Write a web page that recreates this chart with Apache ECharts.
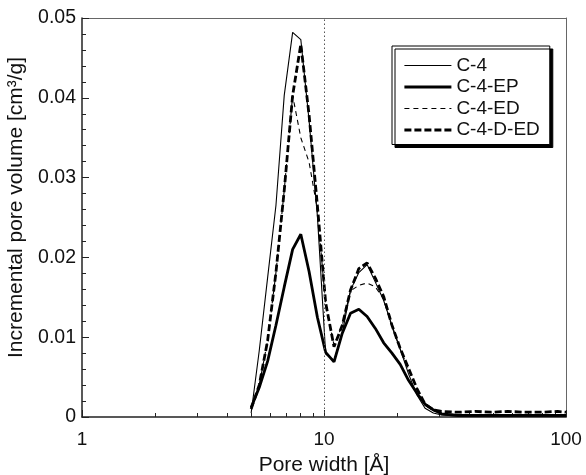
<!DOCTYPE html>
<html>
<head>
<meta charset="utf-8">
<script src="https://cdn.jsdelivr.net/npm/echarts@6/dist/echarts.min.js"></script>
<style>
  html, body { margin: 0; padding: 0; background: #fff; }
  #chart { width: 586px; height: 475px; }
</style>
</head>
<body>
<div id="chart"></div>
<script>
// Pore widths (Å) of the DFT pore size distribution
const poreWidths = [5.0, 5.4, 5.85, 6.33, 6.85, 7.42, 8.02, 8.68, 9.39, 10.16, 11.0, 11.9,
  12.87, 13.93, 15.07, 16.3, 17.64, 19.09, 20.65, 22.35, 24.18, 26.16, 28.3, 30.6,
  35.8, 42, 49.1, 57.5, 67.3, 78.8, 92.3, 100];

// Incremental pore volume (cm³/g) per sample
const c4 = [0.0005, 0.0083, 0.0175, 0.0265, 0.0403, 0.0482, 0.0473, 0.0371, 0.0252, 0.0079,
  0.0071, 0.0105, 0.0159, 0.0181, 0.0191, 0.0169, 0.0146, 0.0115, 0.0085, 0.0054, 0.0028,
  0.0011, 0.0005, 0.00025, 0.0001, 0.0001, 0.0001, 0.0001, 0.0001, 0.0001, 0.0001, 0.0001];
const c4EP = [0.0012, 0.0037, 0.0070, 0.0115, 0.0163, 0.0210, 0.0229, 0.0182, 0.0125, 0.0081,
  0.0069, 0.0105, 0.0130, 0.0135, 0.0126, 0.0111, 0.0093, 0.0080, 0.0066, 0.0046, 0.0030,
  0.0016, 0.0009, 0.0004, 0.0002, 0.0002, 0.0002, 0.0002, 0.0002, 0.0002, 0.0002, 0.0002];
const c4ED = [0.0010, 0.0040, 0.0096, 0.0181, 0.0284, 0.0403, 0.0350, 0.0319, 0.0260, 0.0140,
  0.0090, 0.0115, 0.0158, 0.0165, 0.0168, 0.0163, 0.0148, 0.0113, 0.0085, 0.0060, 0.0035,
  0.0015, 0.0008, 0.0004, 0.0003, 0.0003, 0.0003, 0.0003, 0.0003, 0.0003, 0.0003, 0.0003];
const c4DED = [0.0010, 0.0040, 0.0096, 0.0181, 0.0284, 0.0403, 0.0467, 0.0378, 0.0265, 0.0143,
  0.0088, 0.0115, 0.0159, 0.0186, 0.0193, 0.0174, 0.0151, 0.0115, 0.0086, 0.0061, 0.0036,
  0.0016, 0.0009, 0.0007, 0.0006, 0.0007, 0.0006, 0.0007, 0.0006, 0.0006, 0.0007, 0.0006];

const seriesNames = ['C-4', 'C-4-EP', 'C-4-ED', 'C-4-D-ED'];
const lineWidths = [1.1, 2.8, 1.1, 2.8];
const lineTypes = ['solid', 'solid', [5, 4], [7, 3]];
const xTickLabels = ['1', '10', '100'];
const xMinorTicks = [2, 3, 4, 5, 6, 7, 8, 9, 20, 30, 40, 50, 60, 70, 80, 90];
const yTickLabels = ['0', '0.01', '0.02', '0.03', '0.04', '0.05'];
const markerWidth = 10; // dotted reference line at 10 Å

const FONT = 'Liberation Sans, Arial, sans-serif';
const INK = '#111';
const AXIS = '#222';

// plot box in pixels
const GRID = { left: 82, right: 20, top: 18, bottom: 58 };
const PLOT_W = 586 - GRID.left - GRID.right;
const PLOT_H = 475 - GRID.top - GRID.bottom;

function pairs(values) {
  return poreWidths.map((w, i) => [w, values[i]]);
}

function lineSeries(idx, values) {
  return {
    name: seriesNames[idx],
    type: 'line',
    xAxisIndex: 0,
    yAxisIndex: 0,
    data: pairs(values),
    symbol: 'none',
    smooth: false,
    lineStyle: { color: '#000', width: lineWidths[idx], type: lineTypes[idx] },
    itemStyle: { color: '#000' },
    emphasis: { disabled: true }
  };
}

// axis that only draws its line (plot frame)
function frameAxis(base, position) {
  return Object.assign({}, base, {
    position: position,
    axisLine: { show: true, onZero: false, lineStyle: { color: '#666', width: 1 } },
    axisTick: { show: false },
    axisLabel: { show: false },
    splitLine: { show: false }
  });
}

// axis placed on the opposite edge so that its ticks point into the plot
function tickAxis(base, position, offset, tick, minor) {
  return Object.assign({}, base, {
    position: position,
    offset: offset,
    axisLine: { show: false, onZero: false },
    axisLabel: { show: false },
    splitLine: { show: false },
    axisTick: Object.assign({ show: true, inside: false, lineStyle: { color: AXIS, width: 1 } }, tick),
    minorTick: minor || { show: false }
  });
}

const chart = echarts.init(document.getElementById('chart'), null, { renderer: 'canvas' });

const first = lineSeries(0, c4);
first.markLine = {
  silent: true,
  symbol: ['none', 'none'],
  label: { show: false },
  lineStyle: { color: '#555', width: 1, type: [1.5, 2.5] },
  data: [{ xAxis: markerWidth }]
};

const xBase = { type: 'log', logBase: 10, min: 1, max: 100 };
const xLogUnits = { type: 'value', min: 0, max: 2 };
const yBase = { type: 'value', min: 0, max: 0.05, interval: 0.01 };

chart.setOption({
  animation: false,
  textStyle: { fontFamily: FONT },
  grid: Object.assign({ show: false, containLabel: false, outerBoundsMode: 'none' }, GRID),
  legend: {
    data: seriesNames.map((n, i) => ({
      name: n,
      itemStyle: { opacity: 0 },
      lineStyle: { width: lineWidths[i], type: lineTypes[i], color: '#000' }
    })),
    orient: 'vertical',
    left: 392, top: 46,
    itemWidth: 47, itemHeight: 14, itemGap: 2.5,
    padding: [10, 10, 5, 11],
    backgroundColor: '#fff',
    borderColor: '#000', borderWidth: 1,
    shadowColor: '#000', shadowBlur: 0, shadowOffsetX: 3, shadowOffsetY: 3,
    textStyle: { fontFamily: FONT, fontSize: 19, color: INK },
    selectedMode: false
  },
  xAxis: [
    Object.assign({}, xBase, {
      position: 'bottom',
      name: 'Pore width [Å]', nameLocation: 'middle', nameGap: 38,
      nameTextStyle: { fontFamily: FONT, fontSize: 21, color: INK },
      axisLine: { show: true, onZero: false, lineStyle: { color: AXIS, width: 1.5 } },
      axisTick: { show: false },
      axisLabel: {
        fontFamily: FONT, fontSize: 19, color: INK, margin: 13,
        formatter: (v, i) => xTickLabels[i]
      },
      splitLine: { show: false }
    }),
    frameAxis(xBase, 'top'),
    // decade ticks
    tickAxis(xBase, 'top', -PLOT_H, { length: 7 }),
    // minor ticks at 2–9 and 20–90, on a log10 scale
    tickAxis(xLogUnits, 'top', -PLOT_H, { length: 4, customValues: xMinorTicks.map(v => Math.log10(v)) })
  ],
  yAxis: [
    Object.assign({}, yBase, {
      position: 'left',
      name: 'Incremental pore volume [cm³/g]', nameLocation: 'middle', nameGap: 46,
      nameTextStyle: { fontFamily: FONT, fontSize: 21, color: INK, padding: [0, 0, 0, 20] },
      axisLine: { show: true, onZero: false, lineStyle: { color: AXIS, width: 1.5 } },
      axisTick: { show: false },
      axisLabel: {
        fontFamily: FONT, fontSize: 19.5, color: INK, margin: 6,
        formatter: (v, i) => yTickLabels[i]
      },
      splitLine: { show: false }
    }),
    frameAxis(yBase, 'right'),
    tickAxis(yBase, 'right', -PLOT_W, { length: 7 },
      { show: true, splitNumber: 5, length: 4, lineStyle: { color: AXIS, width: 1 } })
  ],
  series: [
    first,
    lineSeries(1, c4EP),
    lineSeries(2, c4ED),
    lineSeries(3, c4DED)
  ]
});
</script>
</body>
</html>
